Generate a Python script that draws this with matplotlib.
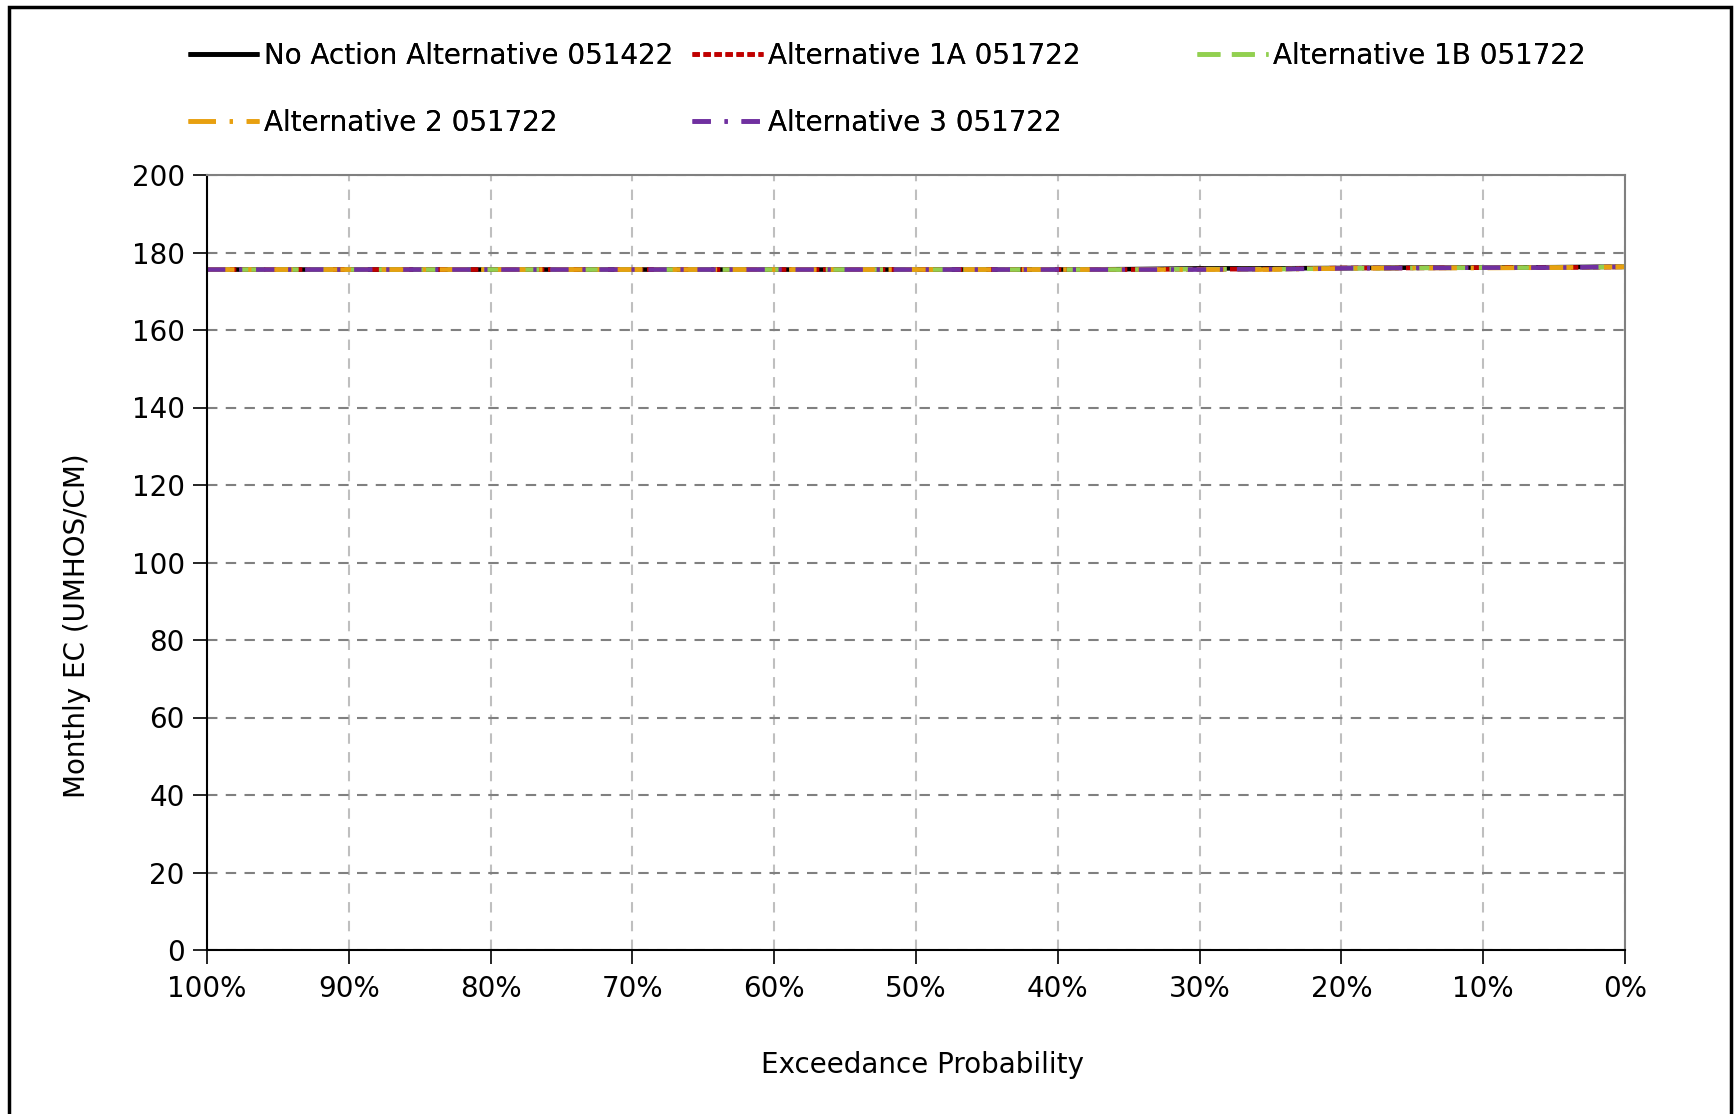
import matplotlib
matplotlib.use("Agg")
import matplotlib.pyplot as plt
from matplotlib.patches import Rectangle
from matplotlib.ticker import FuncFormatter

# ---------------- data ----------------
exceedance = [100, 95, 90, 85, 80, 75, 70, 65, 60, 55, 50, 45, 40, 35, 30, 25, 20, 15, 10, 5, 2, 0]
no_action = [175.6, 175.6, 175.6, 175.6, 175.6, 175.6, 175.6, 175.6, 175.6, 175.6, 175.6, 175.6, 175.6,
             175.7, 175.9, 175.9, 176.0, 176.1, 176.1, 176.2, 176.3, 176.3]
alt_1a = [175.6, 175.6, 175.6, 175.6, 175.6, 175.6, 175.6, 175.6, 175.6, 175.6, 175.6, 175.6, 175.6,
          175.6, 175.7, 175.7, 176.0, 176.0, 176.1, 176.1, 176.2, 176.3]
alt_1b = [175.6, 175.6, 175.6, 175.6, 175.6, 175.6, 175.6, 175.6, 175.6, 175.6, 175.6, 175.6, 175.6,
          175.6, 175.7, 175.7, 175.9, 176.0, 176.1, 176.1, 176.2, 176.3]
alt_2 = [175.6, 175.6, 175.6, 175.6, 175.6, 175.6, 175.6, 175.6, 175.6, 175.6, 175.6, 175.6, 175.6,
         175.6, 175.6, 175.6, 175.9, 176.0, 176.0, 176.1, 176.2, 176.3]
alt_3 = [175.6, 175.6, 175.6, 175.6, 175.6, 175.6, 175.6, 175.6, 175.6, 175.6, 175.6, 175.6, 175.6,
         175.6, 175.6, 175.7, 175.9, 176.0, 176.1, 176.1, 176.2, 176.3]
labels = ["No Action Alternative 051422", "Alternative 1A 051722", "Alternative 1B 051722",
          "Alternative 2 051722", "Alternative 3 051722"]
x_ticks = [100, 90, 80, 70, 60, 50, 40, 30, 20, 10, 0]
y_ticks = [0, 20, 40, 60, 80, 100, 120, 140, 160, 180, 200]

# ---------------- figure ----------------
W, H = 1734, 1114
fig = plt.figure(figsize=(W / 100, H / 100), dpi=100)
plt.rcParams['font.family'] = ['DejaVu Sans']
FS = 20

ax = fig.add_axes([207 / W, 1 - 950 / H, (1625 - 207) / W, (950 - 175) / H])

lw = 3.3
series = [no_action, alt_1a, alt_1b, alt_2, alt_3]
colors = ["#000000", "#C00000", "#92D050", "#E8A010", "#7030A0"]
dashes = [None, (1.6, 0.8), (5.0, 2.5), (6.0, 3.0, 0.7, 3.0), (4.0, 3.0, 0.7, 3.0)]
lines = []
for vals, c, d, lab in zip(series, colors, dashes, labels):
    ln, = ax.plot(exceedance, vals, color=c, lw=lw, label=lab, solid_capstyle='butt',
                  dash_capstyle='butt')
    if d is not None:
        ln.set_dashes(d)
    lines.append(ln)

ax.set_xlim(100, 0)
ax.set_ylim(0, 200)
ax.set_xticks(x_ticks)
ax.set_yticks(y_ticks)
ax.xaxis.set_major_formatter(FuncFormatter(lambda v, p: f"{int(round(v))}%"))
ax.tick_params(axis='both', labelsize=FS, direction='out', length=10, width=1.2, color='#000000')
ax.tick_params(axis='x', pad=8)
ax.tick_params(axis='y', pad=6)

ax.yaxis.grid(True, color='#808080', linestyle=(0, (5, 4)), linewidth=1.5)
ax.xaxis.grid(True, color='#BFBFBF', linestyle=(0, (5, 4)), linewidth=1.5)
ax.set_axisbelow(True)
for s in ['top', 'right']:
    ax.spines[s].set_color('#808080')
    ax.spines[s].set_linewidth(1.5)
for s in ['left', 'bottom']:
    ax.spines[s].set_color('#000000')
    ax.spines[s].set_linewidth(1.5)

fig.text(77 / W, 1 - 626 / H, "Monthly EC (UMHOS/CM)", rotation=90, ha='center', va='center', fontsize=FS)
fig.text(922 / W, 1 - 1065 / H, "Exceedance Probability", ha='center', va='center', fontsize=FS)

# legend entries placed individually (Excel-style grid)
positions = [(188, 56), (692, 56), (1197, 56), (188, 123), (692, 123)]
for ln, (px, py) in zip(lines, positions):
    leg = fig.legend([ln], [ln.get_label()], loc='center left',
                     bbox_to_anchor=(px / W, 1 - py / H), bbox_transform=fig.transFigure,
                     frameon=False, fontsize=FS, handlelength=2.55, handletextpad=0.2,
                     borderpad=0, borderaxespad=0)
    fig.add_artist(leg)

# outer border
fig.patches.append(Rectangle((9 / W, -0.05), (1731 - 9) / W, 1.05 - 7 / H, transform=fig.transFigure,
                             fill=False, edgecolor='black', linewidth=2.5, clip_on=False))

fig.savefig("out.png", dpi=100)
